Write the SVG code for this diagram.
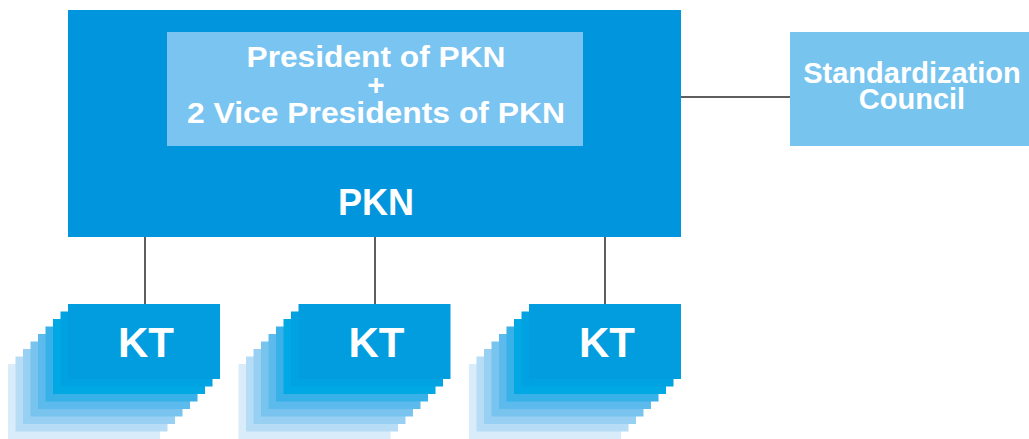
<svg xmlns="http://www.w3.org/2000/svg" width="1029" height="439" viewBox="0 0 1029 439">
<style>
.t{font-family:"Liberation Sans",Arial,sans-serif;font-weight:bold;fill:#ffffff;text-anchor:middle}
.ln{stroke:#2a2a2a;stroke-width:1.5;fill:none}
.c1{fill:#d9ecfa}.c2{fill:#b6dcf6}.c3{fill:#97d0f3}.c4{fill:#79c4ef}.c5{fill:#5cbaec}.c6{fill:#38b0e8}.c7{fill:#00a9e4}.c8{fill:#00a2e2}.c9{fill:#019ddf}
</style>
<defs>
<g id="stack">
<rect class="c1" x="8" y="364" width="152" height="75"/>
<rect class="c2" x="15.5" y="356.5" width="152" height="75"/>
<rect class="c3" x="23" y="349" width="152" height="75"/>
<rect class="c4" x="30.5" y="341.5" width="152" height="75"/>
<rect class="c5" x="38" y="334" width="152" height="75"/>
<rect class="c6" x="45.5" y="326.5" width="152" height="75"/>
<rect class="c7" x="53" y="319" width="152" height="75"/>
<rect class="c8" x="60.5" y="311.5" width="152" height="75"/>
<rect class="c9" x="68" y="304" width="152" height="75"/>
</g>
</defs>
<g id="connectors">
<line class="ln" x1="681" y1="97" x2="790" y2="97"/>
<line class="ln" x1="145" y1="237" x2="145" y2="304"/>
<line class="ln" x1="375" y1="237" x2="375" y2="304"/>
<line class="ln" x1="605" y1="237" x2="605" y2="304"/>
</g>
<g id="pkn">
<rect x="68" y="10" width="613" height="227" fill="#0095dc"/>
<text class="t" x="376" y="215" font-size="36">PKN</text>
</g>
<g id="presidents">
<rect x="167" y="32" width="416" height="114" fill="#79c4f0"/>
<text class="t" x="376" y="67" font-size="30" textLength="259" lengthAdjust="spacingAndGlyphs">President of PKN</text>
<text class="t" x="376" y="95" font-size="30">+</text>
<text class="t" x="376" y="123" font-size="30" textLength="378" lengthAdjust="spacingAndGlyphs">2 Vice Presidents of PKN</text>
</g>
<g id="council">
<rect x="790" y="32" width="239" height="114" fill="#77c4ef"/>
<text class="t" x="912" y="83" font-size="29">Standardization</text>
<text class="t" x="912" y="109" font-size="29">Council</text>
</g>
<g id="kt1">
<use href="#stack"/>
<text class="t" x="146" y="357" font-size="42">KT</text>
</g>
<g id="kt2">
<use href="#stack" x="230.5"/>
<text class="t" x="376.5" y="357" font-size="42">KT</text>
</g>
<g id="kt3">
<use href="#stack" x="461"/>
<text class="t" x="607" y="357" font-size="42">KT</text>
</g>
</svg>
